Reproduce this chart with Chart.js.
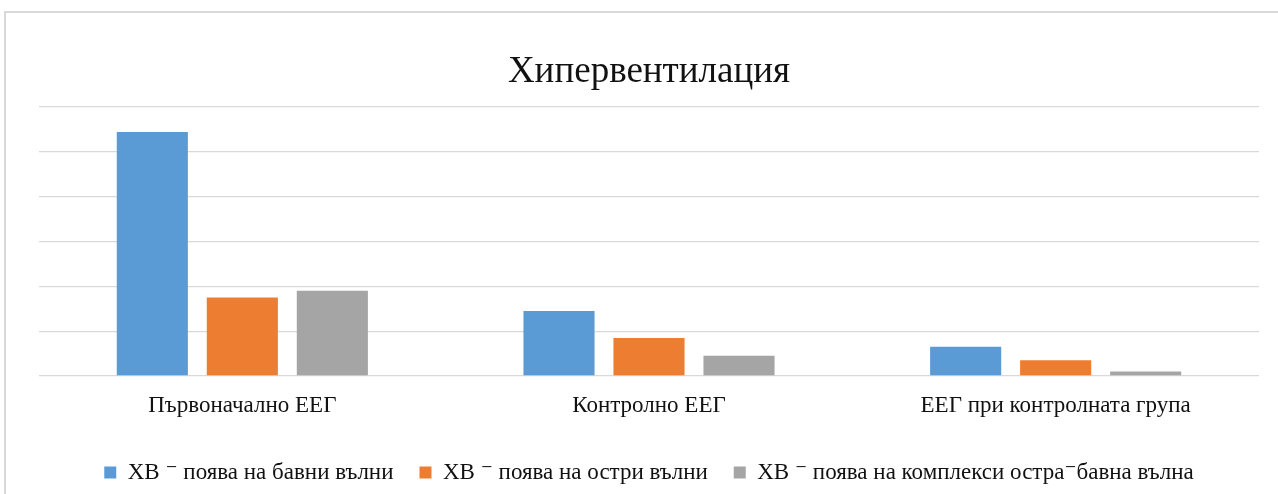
<!DOCTYPE html>
<html>
<head>
<meta charset="utf-8">
<script src="https://cdn.jsdelivr.net/npm/chart.js@4.4.0/dist/chart.umd.min.js"></script>
<style>
  html, body { margin: 0; padding: 0; background: #fff; overflow: hidden; }
  #wrap { position: relative; width: 1278px; height: 494px; }
  #frame { position: absolute; left: 4px; top: 11px; width: 1290px; height: 500px;
           border-left: 2px solid #d9d9d9; border-top: 2px solid #d9d9d9; }
  canvas { position: absolute; left: 0; top: 0; }
</style>
</head>
<body>
<div id="wrap">
  <div id="frame"></div>
  <canvas id="hvChart" width="1278" height="494"></canvas>
</div>
<script>
// категории и серии (стойности отчетени от графиката)
const categories = ['Първоначално ЕЕГ', 'Контролно ЕЕГ', 'ЕЕГ при контролната група'];
const seriesNames = [
    'ХВ ⁻ поява на бавни вълни',
    'ХВ ⁻ поява на остри вълни',
    'ХВ ⁻ поява на комплекси остра⁻бавна вълна'
];
const slowWaves = [54.4, 14.5, 6.5];
const sharpWaves = [17.5, 8.5, 3.5];
const complexWaves = [19.0, 4.5, 1.0];
const yTicks = [0, 10, 20, 30, 40, 50, 60];

const COLORS = ['#5b9bd5', '#ed7d31', '#a5a5a5'];
const SERIF = '"Liberation Serif", "DejaVu Serif", serif';

function hvChart() {
    var ctx = document.getElementById('hvChart');

    var data = {
        labels: categories,
        datasets: [
            { label: seriesNames[0], data: slowWaves, backgroundColor: COLORS[0] },
            { label: seriesNames[1], data: sharpWaves, backgroundColor: COLORS[1] },
            { label: seriesNames[2], data: complexWaves, backgroundColor: COLORS[2] }
        ]
    };

    var options = {
        responsive: false,
        animation: false,
        layout: { padding: { left: 39, right: 19, top: 0, bottom: 0 } },
        datasets: {
            bar: { categoryPercentage: 0.664, barPercentage: 0.79 }
        },
        plugins: {
            title: {
                display: true,
                text: 'Хипервентилация',
                color: '#111',
                font: { family: SERIF, size: 37, weight: 'normal' },
                padding: { top: 50, bottom: 12.6 }
            },
            legend: {
                display: true,
                position: 'bottom',
                labels: {
                    color: '#111',
                    font: { family: SERIF, size: 23 },
                    boxWidth: 12,
                    boxHeight: 12,
                    padding: 26
                }
            },
            tooltip: { enabled: false }
        },
        scales: {
            x: {
                grid: { display: false, drawTicks: false },
                border: { display: false },
                ticks: {
                    color: '#111',
                    font: { family: SERIF, size: 23 },
                    padding: 15.7,
                    maxRotation: 0
                }
            },
            y: {
                min: yTicks[0],
                max: yTicks[yTicks.length - 1],
                afterBuildTicks: function (axis) {
                    axis.ticks = yTicks.map(function (v) { return { value: v }; });
                },
                grid: { color: '#d9d9d9', lineWidth: 1.3, drawTicks: false },
                border: { display: false },
                ticks: { display: false }
            }
        }
    };

    new Chart(ctx, { type: 'bar', data: data, options: options });
}

hvChart();
</script>
</body>
</html>
